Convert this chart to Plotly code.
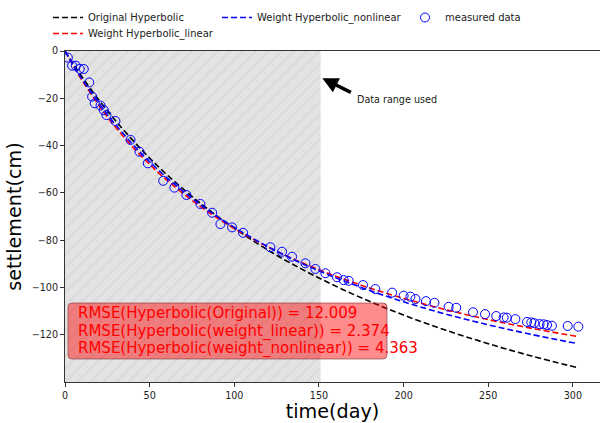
import plotly.graph_objects as go

# Measured settlement record (day, cm)
time_meas = [1.7, 4.2, 6.4, 8.7, 11.1, 14.3, 16.0, 17.6, 21.0, 22.9, 24.5, 29.8, 38.7,
             44.0, 48.9, 58.0, 64.6, 71.7, 80.0, 86.9, 91.8, 98.7, 105.2, 121.3, 128.2,
             134.1, 142.0, 147.9, 153.8, 160.7, 164.6, 167.6, 176.0, 183.3, 193.2, 200.0,
             204.0, 207.0, 213.2, 218.2, 226.6, 231.1, 241.0, 248.1, 254.7, 259.1, 261.0,
             266.0, 272.9, 275.4, 277.2, 280.3, 282.7, 284.7, 287.6, 296.9, 303.2]
settle_meas = [-2.8, -6.2, -6.2, -7.6, -7.6, -13.3, -19.3, -22.1, -23.1, -25.0, -27.1,
               -29.6, -37.6, -42.6, -47.5, -54.9, -57.8, -60.9, -64.7, -68.4, -73.2,
               -74.6, -76.9, -83.0, -84.9, -87.0, -89.8, -92.2, -94.0, -95.7, -96.9,
               -97.2, -99.0, -100.7, -102.2, -103.5, -103.9, -104.9, -105.8, -106.5,
               -108.2, -108.6, -110.5, -111.3, -112.1, -112.7, -112.8, -113.4, -114.6,
               -114.8, -115.1, -115.5, -115.6, -115.9, -116.2, -116.3, -116.6]

# Fitted hyperbolic curves
fit_time = [0, 5, 10, 20, 30, 45, 60, 80, 100, 125, 150, 175, 200, 225, 250, 275, 303]
fit_original = [0, -5.6, -10.9, -20.7, -29.6, -41.6, -52.2, -64.4, -75.0, -86.4, -96.0,
                -104.4, -111.7, -118.1, -123.8, -128.9, -134.0]
fit_weight_linear = [0, -6.4, -12.3, -23.0, -32.4, -44.4, -54.5, -65.8, -75.1, -84.7,
                     -92.5, -99.1, -104.6, -109.4, -113.6, -117.2, -120.8]
fit_weight_nonlinear = [0, -6.1, -11.8, -22.1, -31.3, -43.3, -53.5, -65.0, -74.6, -84.7,
                        -93.0, -100.0, -106.1, -111.3, -115.8, -119.8, -123.8]

rmse_labels = ["RMSE(Hyperbolic(Original)) = 12.009",
               "RMSE(Hyperbolic(weight_linear)) = 2.374",
               "RMSE(Hyperbolic(weight_nonlinear)) = 4.363"]

x_ticks = [0, 50, 100, 150, 200, 250, 300]
y_ticks = [0, -20, -40, -60, -80, -100, -120]

X_RANGE = [0, 316]
Y_RANGE = [-140, 0]
USED_END = 151  # last day of the data used for fitting

FONT = "DejaVu Sans"
SMALL = 9.6

fig = go.Figure()

# Shaded, hatched band marking the fitting window
fig.add_trace(go.Scatter(
    x=[0, USED_END, USED_END, 0, 0],
    y=[Y_RANGE[0], Y_RANGE[0], Y_RANGE[1], Y_RANGE[1], Y_RANGE[0]],
    mode="lines", fill="toself", fillcolor="#e3e3e3",
    fillpattern=dict(shape="/", fgcolor="#cfcfcf", bgcolor="#e3e3e3", size=9, solidity=0.2),
    line=dict(width=0), hoverinfo="skip", showlegend=False))

dash = "6px,3px"
fig.add_trace(go.Scatter(x=fit_time, y=fit_original, mode="lines", name="Original Hyperbolic",
                         line=dict(color="black", width=1.6, dash=dash, shape="spline"),
                         legend="legend"))
fig.add_trace(go.Scatter(x=fit_time, y=fit_weight_linear, mode="lines", name="Weight Hyperbolic_linear",
                         line=dict(color="red", width=1.6, dash=dash, shape="spline"),
                         legend="legend4"))
fig.add_trace(go.Scatter(x=fit_time, y=fit_weight_nonlinear, mode="lines", name="Weight Hyperbolic_nonlinear",
                         line=dict(color="blue", width=1.6, dash=dash, shape="spline"),
                         legend="legend2"))
fig.add_trace(go.Scatter(x=time_meas, y=settle_meas, mode="markers", name="measured data",
                         marker=dict(symbol="circle-open", color="blue", size=9, line=dict(width=1)),
                         legend="legend3"))

# Plot-area geometry in pixels, used to place the overlays
PL, PR, PT, PB = 65, 600, 51, 382
W, H = PR - PL, PB - PT


def px_x(p):
    return (p - PL) / W


def px_y(p):
    return (PB - p) / H


# RMSE summary box (rounded rectangle)
bx0, bx1, by0, by1 = px_x(68), px_x(387), px_y(359), px_y(303)
rx, ry = 4 / W, 4 / H
box_path = (f"M {bx0 + rx},{by0} L {bx1 - rx},{by0} Q {bx1},{by0} {bx1},{by0 + ry} "
            f"L {bx1},{by1 - ry} Q {bx1},{by1} {bx1 - rx},{by1} "
            f"L {bx0 + rx},{by1} Q {bx0},{by1} {bx0},{by1 - ry} "
            f"L {bx0},{by0 + ry} Q {bx0},{by0} {bx0 + rx},{by0} Z")
fig.add_shape(type="path", path=box_path, xref="paper", yref="paper",
              fillcolor="rgba(255,0,0,0.45)", line=dict(color="rgba(110,40,40,0.55)", width=1),
              layer="above")

# Three RMSE lines in one text block: the block font sets the line pitch,
# the spans carry the glyph size
rmse_text = "<br>".join(f'<span style="font-size:15px">{t}</span>' for t in rmse_labels)
annotations = [dict(xref="paper", yref="paper", x=px_x(76), y=px_y(331), text=rmse_text,
                    showarrow=False, xanchor="left", yanchor="middle", align="left",
                    font=dict(family=FONT, size=13.5, color="red"))]

# Arrow pointing at the end of the fitting window
annotations.append(dict(x=USED_END + 1, y=-11.5, xref="x", yref="y", text="", showarrow=True,
                        ax=30, ay=15, arrowhead=2, arrowsize=0.9, arrowwidth=3.5,
                        arrowcolor="black", standoff=0))
annotations.append(dict(x=171, y=-20.7, xref="x", yref="y", text="Data range used",
                        showarrow=False, xanchor="left", yanchor="middle",
                        font=dict(family=FONT, size=SMALL, color="#222")))

axis_common = dict(showline=True, linecolor="#333", linewidth=1, mirror=True, ticks="outside",
                   ticklen=4, tickcolor="#333", showgrid=False, zeroline=False,
                   tickfont=dict(family=FONT, size=SMALL, color="#222"))

legend_common = dict(orientation="v", xanchor="left", yanchor="top", bgcolor="rgba(0,0,0,0)",
                     font=dict(family=FONT, size=SMALL + 0.4, color="#222"), itemwidth=30,
                     tracegroupgap=0)

fig.update_layout(
    width=600, height=423,
    margin=dict(l=PL, r=600 - PR, t=PT, b=423 - PB),
    plot_bgcolor="white", paper_bgcolor="white",
    font=dict(family=FONT, color="black"),
    xaxis=dict(range=X_RANGE, tickvals=x_ticks, **axis_common,
               title=dict(text="time(day)", font=dict(family=FONT, size=19.2, color="black"),
                          standoff=3)),
    yaxis=dict(range=Y_RANGE, tickvals=y_ticks, **axis_common,
               title=dict(text="settlement(cm)", font=dict(family=FONT, size=19.2, color="black"),
                          standoff=5)),
    legend=dict(x=px_x(48), y=px_y(3), **legend_common),
    legend2=dict(x=px_x(217), y=px_y(3), **legend_common),
    legend3=dict(x=px_x(405), y=px_y(3), **legend_common),
    legend4=dict(x=px_x(48), y=px_y(19), **legend_common),
    annotations=annotations,
    showlegend=True,
)

fig.write_html("out.html")
